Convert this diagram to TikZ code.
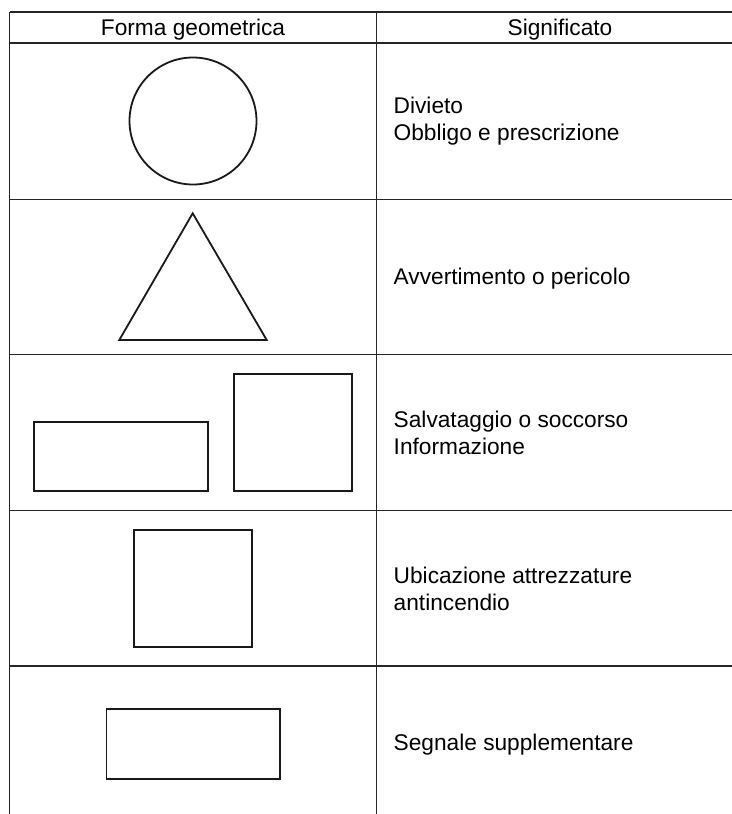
\documentclass[tikz,border=0pt]{standalone}
\usepackage{fontspec}
\setmainfont{Liberation Sans}
\usetikzlibrary{positioning}

\begin{document}
\begin{tikzpicture}[x=0.5pt,y=-0.5pt,
    grid/.style={line width=0.7pt,black!85},
    outline/.style={line width=0.9pt,black!90},
    meaning/.style={anchor=base west,inner sep=0pt,align=left,
        font=\fontsize{11.35pt}{13.5pt}\selectfont}]
    \useasboundingbox (0,0) rectangle (732,814);

    % table lines
    \foreach \y in {12,43,199.3,354.3,510.7,666}
        \draw[grid] (9.5,\y) -- (732,\y);
    \draw[grid] (9.5,12) -- (9.5,814);
    \draw[grid] (376.5,12) -- (376.5,814);

    % header
    \node[meaning,anchor=base] (forma) at (193,35.7) {Forma geometrica};
    \node[meaning,anchor=base] (signif) at (560,35.7) {Significato};

    % shapes
    \draw[outline] (193,121) circle (63.5);
    \draw[outline] (192.7,213.3) -- (119.3,340) -- (266.7,340) -- cycle;
    \draw[outline] (34.3,421.7) rectangle (208.3,491.3);
    \draw[outline] (234,373.7) rectangle (351.7,491.3);
    \draw[outline] (134.3,530) rectangle (251.7,646.7);
    \draw[outline] (106.5,709) rectangle (280,779);

    % meanings (base = last line)
    \node[meaning] (divieto) at (393.3,140) {Divieto\\Obbligo e prescrizione};
    \node[meaning] (avvert) at (393.3,284) {Avvertimento o pericolo};
    \node[meaning] (salva) at (393.3,454) {Salvataggio o soccorso\\Informazione};
    \node[meaning] (ubica) at (393.3,610) {Ubicazione attrezzature\\antincendio};
    \node[meaning] (segnale) at (393.3,750) {Segnale supplementare};
\end{tikzpicture}
\end{document}
